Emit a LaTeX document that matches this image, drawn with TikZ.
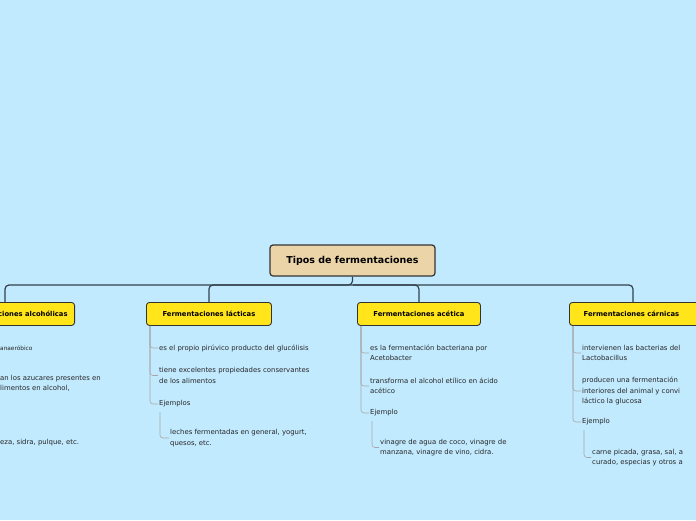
\documentclass[tikz,border=0pt]{standalone}
\usepackage{fontspec}
\setmainfont{DejaVu Sans}
\definecolor{bgc}{RGB}{194,234,255}
\definecolor{rootc}{RGB}{235,213,168}
\definecolor{catc}{RGB}{255,229,26}
\definecolor{linec}{RGB}{50,65,75}
\begin{document}
\begin{tikzpicture}[x=1pt,y=-1pt,
 root/.style={draw=black!80,line width=1.2pt,fill=rootc,rounded corners=3pt,minimum width=165pt,minimum height=31pt,font=\bfseries\fontsize{9.5}{12}\selectfont},
 cat/.style={draw=black!80,line width=0.9pt,fill=catc,rounded corners=3pt,minimum height=23pt,font=\bfseries\fontsize{6.8}{9}\selectfont,inner xsep=7pt},
 item/.style={anchor=west,align=left,inner sep=1pt,font=\fontsize{6.9}{10.5}\selectfont,text=black!85},
 main/.style={draw=linec,line width=1.2pt,rounded corners=4pt},
 sub/.style={draw=gray!70,line width=0.6pt,rounded corners=3pt}]
\fill[bgc] (0,0) rectangle (696,520);
\begin{scope}
\clip (0,0) rectangle (696,520);
\node[root] (r) at (352.5,260.5) {Tipos de fermentaciones};
\node[cat,anchor=north east] (a) at (75,302) {Fermentaciones alcohólicas};
\node[cat,anchor=north west,minimum width=125pt] (l) at (146,302) {Fermentaciones lácticas};
\node[cat,anchor=north west,minimum width=123pt] (c) at (357,302) {Fermentaciones acética};
\node[cat,anchor=north west,minimum width=130pt] (k) at (569,302) {Fermentaciones cárnicas\hspace*{6pt}};
\coordinate (j) at (352.5,285);
\coordinate (ad) at (5,302);
\draw[main] (r.south) -- (j) -| (l.north);
\draw[main] (j) -| (ad);
\draw[main] (j) -| (c.north);
\draw[main] (j) -| ([xshift=64pt]k.north west);
% alcoholicas fragments
\node[item,font=\fontsize{5.8}{8}\selectfont] (a1) at (-1,348) {anaeróbico};
\node[item] (a2) at (-1,383.5) {an los azucares presentes en\\limentos en alcohol,};
\node[item] (a3) at (-1,443) {eza, sidra, pulque, etc.};
% lacticas
\node[item] (l1) at (158,348) {es el propio pirúvico producto del glucólisis};
\node[item] (l2) at (158,375.5) {tiene excelentes propiedades conservantes\\de los alimentos};
\node[item] (l3) at (158,404) {Ejemplos};
\node[item] (l4) at (169,438) {leches fermentadas en general, yogurt,\\quesos, etc.};
\draw[sub] ([xshift=4pt]l.south west) |- (l1.west);
\draw[sub] ([xshift=4pt]l.south west) |- (l2.west);
\draw[sub] ([xshift=4pt]l.south west) |- (l3.west);
\draw[sub] (160,412) |- (l4.west);
% acetica
\node[item] (c1) at (369,353) {es la fermentación bacteriana por\\Acetobacter};
\node[item] (c2) at (369,386) {transforma el alcohol etílico en ácido\\acético};
\node[item] (c3) at (369,413) {Ejemplo};
\node[item] (c4) at (379,447.5) {vinagre de agua de coco, vinagre de\\manzana, vinagre de vino, cidra.};
\draw[sub] ([xshift=4pt]c.south west) |- (c1.west);
\draw[sub] ([xshift=4pt]c.south west) |- (c2.west);
\draw[sub] ([xshift=4pt]c.south west) |- (c3.west);
\draw[sub] (372,421) |- (c4.west);
% carnicas
\node[item] (k1) at (581,353) {intervienen las bacterias del\\Lactobacillus};
\node[item] (k2) at (581,391) {producen una fermentación\\interiores del animal y convi\\láctico la glucosa};
\node[item] (k3) at (581,422) {Ejemplo};
\node[item] (k4) at (591,457.5) {carne picada, grasa, sal, a\\curado, especias y otros a};
\draw[sub] ([xshift=4pt]k.south west) |- (k1.west);
\draw[sub] ([xshift=4pt]k.south west) |- (k2.west);
\draw[sub] ([xshift=4pt]k.south west) |- (k3.west);
\draw[sub] (584,430) |- (k4.west);
\end{scope}
\end{tikzpicture}
\end{document}
